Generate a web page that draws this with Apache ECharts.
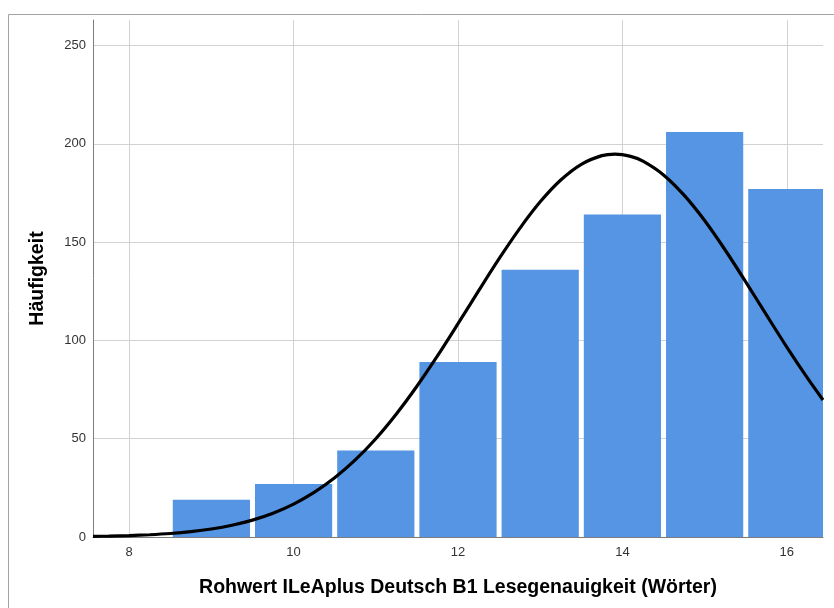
<!DOCTYPE html>
<html>
<head>
<meta charset="utf-8">
<script src="https://cdn.jsdelivr.net/npm/echarts@6/dist/echarts.min.js"></script>
<style>
html,body{margin:0;padding:0;background:#fff;}
#chart{width:834px;height:608px;}
</style>
</head>
<body>
<div id="chart"></div>
<script>
// ---- data ----
const binCenters = [9, 10, 11, 12, 13, 14, 15, 16];
const frequencies = [19, 27, 44, 89, 136, 164, 206, 177];
const binWidth = 1;
const curveX = [7.56, 7.75, 8, 8.25, 8.5, 8.75, 9, 9.25, 9.5, 9.75, 10, 10.25, 10.5, 10.75, 11, 11.25, 11.5, 11.75, 12, 12.25, 12.5, 12.75, 13, 13.25, 13.5, 13.75, 13.91, 14.1, 14.25, 14.5, 14.75, 15, 15.25, 15.5, 15.75, 16, 16.25, 16.44];
const curveY = [0.3, 0.44, 0.72, 1.14, 1.77, 2.71, 4.06, 5.97, 8.59, 12.1, 16.75, 22.7, 30.1, 39.2, 50.0, 62.6, 76.7, 92.1, 108.5, 125.2, 141.6, 156.9, 170.5, 181.6, 189.6, 194.0, 194.8, 193.6, 191.2, 184.2, 173.9, 161.0, 146.0, 129.8, 113.1, 96.6, 80.9, 69.7];
const xTicks = [8, 10, 12, 14, 16];
const yTicks = [0, 50, 100, 150, 200, 250];
const xRange = [7.56, 16.44];
const yRange = [0, 263];
const xTitle = 'Rohwert ILeAplus Deutsch B1 Lesegenauigkeit (Wörter)';
const yTitle = 'Häufigkeit';

const FONT = "'Liberation Sans', Arial, sans-serif";
const barColor = '#5595e4';
const gridColor = '#d2d2d2';
const axisColor = '#7d7d7d';

const chart = echarts.init(document.getElementById('chart'));
const barData = binCenters.map((c, i) => [c, frequencies[i]]);
const curveData = curveX.map((x, i) => [x, curveY[i]]);

chart.setOption({
  animation: false,
  backgroundColor: '#fff',
  textStyle: { fontFamily: FONT },
  graphic: [{
    type: 'polyline',
    shape: { points: [[8.5, 700], [8.5, 14.5], [900, 14.5]] },
    style: { stroke: '#a3a3a3', lineWidth: 1, fill: null },
    silent: true
  }],
  grid: { left: 93, right: 11, top: 20, bottom: 71, containLabel: false },
  xAxis: {
    type: 'value',
    min: xRange[0], max: xRange[1],
    name: xTitle,
    nameLocation: 'middle',
    nameGap: 41,
    nameTextStyle: { fontFamily: FONT, fontWeight: 'bold', fontSize: 19.5, color: '#000' },
    axisLine: { show: true, onZero: false, lineStyle: { color: axisColor, width: 1 } },
    axisTick: { show: false },
    splitLine: { show: false },
    axisLabel: { customValues: xTicks, color: '#333', fontSize: 13, fontFamily: FONT, margin: 9 }
  },
  yAxis: {
    type: 'value',
    min: yRange[0], max: yRange[1],
    name: yTitle,
    nameLocation: 'middle',
    nameGap: 45,
    nameTextStyle: { fontFamily: FONT, fontWeight: 'bold', fontSize: 19.5, color: '#000' },
    axisLine: { show: true, lineStyle: { color: axisColor, width: 1 } },
    axisTick: { show: false },
    splitLine: { show: false },
    axisLabel: { customValues: yTicks, color: '#333', fontSize: 13, fontFamily: FONT, margin: 7 }
  },
  series: [
    {
      type: 'line',
      data: [],
      z: 0,
      silent: true,
      markLine: {
        z: 0,
        silent: true,
        symbol: 'none',
        label: { show: false },
        lineStyle: { color: gridColor, width: 1, type: 'solid' },
        data: xTicks.map(v => ({ xAxis: v })).concat(yTicks.filter(v => v > 0).map(v => ({ yAxis: v })))
      }
    },
    {
      type: 'custom',
      z: 10,
      data: barData,
      renderItem: function (params, api) {
        const x = api.value(0), y = api.value(1);
        const p0 = api.coord([x - binWidth / 2, y]);
        const p1 = api.coord([x + binWidth / 2, 0]);
        const gap = 2.5;
        const rect = echarts.graphic.clipRectByRect(
          { x: p0[0] + gap, y: p0[1], width: p1[0] - p0[0] - 2 * gap, height: p1[1] - p0[1] },
          { x: params.coordSys.x, y: params.coordSys.y, width: params.coordSys.width, height: params.coordSys.height }
        );
        return rect && { type: 'rect', shape: rect, style: { fill: barColor } };
      }
    },
    {
      type: 'line',
      z: 11,
      data: curveData,
      smooth: 0.3,
      symbol: 'none',
      lineStyle: { color: '#000', width: 3.2 }
    }
  ]
});
</script>
</body>
</html>
